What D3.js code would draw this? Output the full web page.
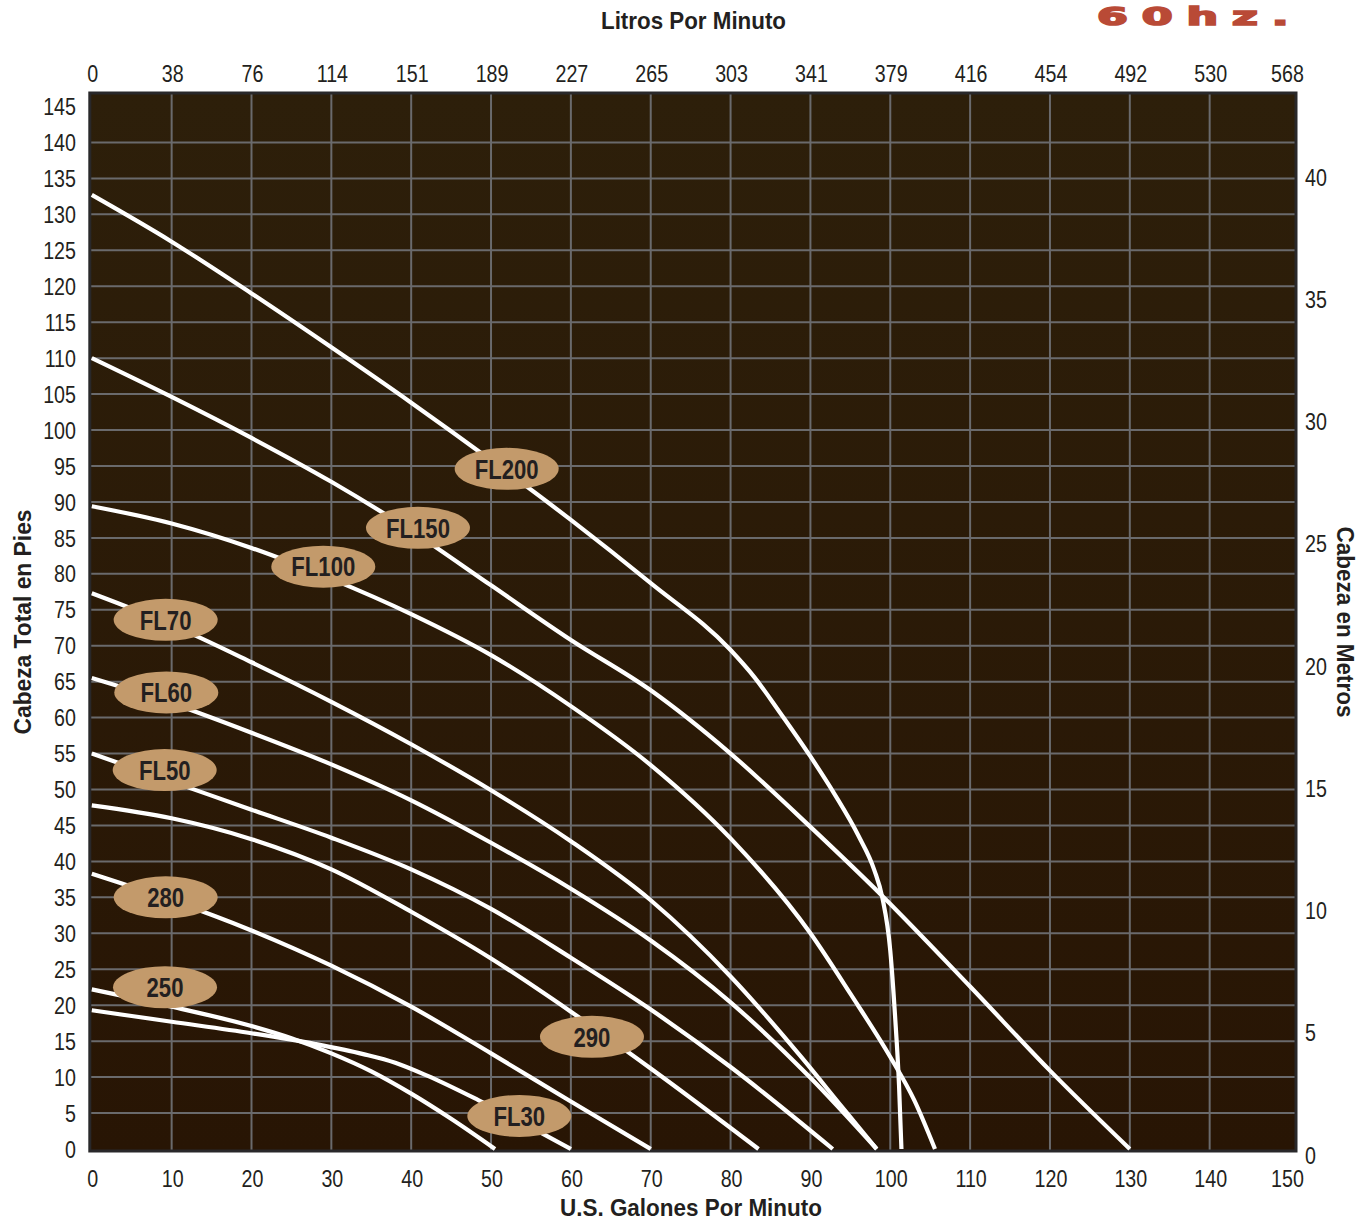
<!DOCTYPE html>
<html>
<head>
<meta charset="utf-8">
<script src="https://cdn.jsdelivr.net/npm/d3@7"></script>
<style>
  html, body { margin: 0; padding: 0; background: #ffffff; }
  svg { display: block; }
  .tick-label { font-family: 'Liberation Sans', Arial, sans-serif; font-size: 24px; fill: #231f20; }
  .title { font-family: 'Liberation Sans', Arial, sans-serif; font-weight: bold; font-size: 24px; fill: #231f20; }
  .pump-label { font-family: 'Liberation Sans', Arial, sans-serif; font-weight: bold; font-size: 27px; fill: #231f20; }
</style>
</head>
<body>
<svg id="chart" width="1367" height="1222"></svg>
<script>
// ---------------- DATA ----------------
const gpmTicks = [0, 10, 20, 30, 40, 50, 60, 70, 80, 90, 100, 110, 120, 130, 140, 150];
const lpmLabels = ["0", "38", "76", "114", "151", "189", "227", "265", "303", "341", "379", "416", "454", "492", "530", "568"];
const ftTicks = [0, 5, 10, 15, 20, 25, 30, 35, 40, 45, 50, 55, 60, 65, 70, 75, 80, 85, 90, 95, 100, 105, 110, 115, 120, 125, 130, 135, 140, 145];
const meterTicks = [0, 5, 10, 15, 20, 25, 30, 35, 40];

// pump curves: [US gpm, total head in feet]
const fl200 = [[0,132.7],[10,126.2],[20,119.0],[30,111.5],[40,103.8],[50,95.8],[60,87.5],[70,78.7],[80,69.4],[83,65.6],[86,61.0],[90,54.6],[93,49.4],[96,43.6],[98,38.8],[99,35.0],[100,27.6],[100.6,18.5],[101.1,8.8],[101.4,0]];
const fl150 = [[0,110.0],[10,104.6],[20,98.9],[30,92.8],[40,86.0],[50,78.4],[60,70.8],[70,63.8],[80,55.0],[90,44.8],[99,35.2],[110,22.6],[120,10.9],[130,0]];
const fl100 = [[0,89.4],[10,87.0],[20,83.6],[30,79.3],[40,74.4],[50,68.7],[60,61.6],[70,53.4],[80,43.2],[90,30.0],[95,21.6],[100,12.8],[103,6.8],[105.6,0]];
const fl70  = [[0,77.3],[10,72.9],[20,67.7],[30,62.2],[40,56.3],[50,49.9],[60,42.8],[70,34.6],[80,24.0],[89,12.6],[94,5.8],[98.3,0]];
const fl60  = [[0,65.5],[10,62.0],[20,57.9],[30,53.5],[40,48.5],[50,42.6],[60,36.2],[70,29.0],[80,20.4],[90,9.9],[98.3,0]];
const fl50  = [[0,55.0],[10,51.1],[20,47.2],[30,43.3],[40,38.9],[50,33.4],[60,26.6],[70,19.4],[80,11.4],[92.8,0]];
const p290  = [[0,47.8],[10,46.0],[20,43.1],[30,38.9],[40,33.0],[50,26.5],[60,19.1],[70,11.2],[83.5,0]];
const p280  = [[0,38.3],[10,34.6],[20,30.4],[30,25.5],[40,19.8],[50,13.3],[60,6.6],[70,0]];
const p250  = [[0,22.2],[10,19.8],[20,17.1],[25,15.4],[30,13.3],[35,10.8],[40,7.7],[45,4.2],[50.5,0]];
const fl30  = [[0,19.3],[10,17.7],[20,16.1],[28,14.6],[34,13.2],[38,12.0],[42,10.2],[48.4,6.8],[55,3.0],[60,0]];
const curves = [fl200, fl150, fl100, fl70, fl60, fl50, p290, p280, p250, fl30];

// label bubbles
const labelNames = ["FL200", "FL150", "FL100", "FL70", "FL60", "FL50", "280", "250", "290", "FL30"];
const labelGpm  = [51.96, 40.85, 28.99, 9.25, 9.33, 9.13, 9.25, 9.17, 62.64, 53.54];
const labelFt   = [94.6, 86.4, 81.0, 73.6, 63.5, 52.7, 35.0, 22.5, 15.6, 4.6];

// ---------------- DRAW ----------------
const svg = d3.select("#chart");
const x = d3.scaleLinear().domain([0, 150]).range([91.8, 1289.5]);
const y = d3.scaleLinear().domain([0, 145]).range([1149, 106.5]);
const yM = d3.scaleLinear().domain([0, 40]).range([1155, 177]);
const NARROW = 0.82;

const plotL = x(0) - 2, plotR = x(150) + 6.5, plotT = y(145) - 13.5, plotB = y(0) + 2;

const defs = svg.append("defs");
const grad = defs.append("linearGradient").attr("id", "bg").attr("x1", 0).attr("y1", 0).attr("x2", 0).attr("y2", 1);
grad.append("stop").attr("offset", "0%").attr("stop-color", "#2d1f0a");
grad.append("stop").attr("offset", "100%").attr("stop-color", "#281504");
defs.append("clipPath").attr("id", "clip").append("rect")
  .attr("x", plotL).attr("y", plotT).attr("width", plotR - plotL).attr("height", plotB - plotT);

svg.append("rect").attr("x", plotL).attr("y", plotT).attr("width", plotR - plotL).attr("height", plotB - plotT)
  .attr("fill", "url(#bg)");

// grid
const grid = svg.append("g").attr("stroke", "#6a6a6c").attr("stroke-width", 2);
grid.selectAll("line.v").data(gpmTicks.filter(d => d > 0 && d < 150)).enter().append("line")
  .attr("x1", d => x(d)).attr("x2", d => x(d)).attr("y1", plotT).attr("y2", plotB);
grid.selectAll("line.h").data(ftTicks.filter(d => d > 0 && d < 145)).enter().append("line")
  .attr("x1", plotL).attr("x2", plotR).attr("y1", d => y(d)).attr("y2", d => y(d));

// frame
svg.append("rect").attr("x", plotL).attr("y", plotT).attr("width", plotR - plotL).attr("height", plotB - plotT)
  .attr("fill", "none").attr("stroke", "#29282a").attr("stroke-width", 3);

// curves
const line = d3.line().x(d => x(d[0])).y(d => y(d[1])).curve(d3.curveMonotoneX);
svg.append("g").attr("clip-path", "url(#clip)").selectAll("path").data(curves).enter().append("path")
  .attr("d", line).attr("fill", "none").attr("stroke", "#ffffff").attr("stroke-width", 4.2)
  .attr("stroke-linejoin", "round");

// labels
const lab = svg.append("g").selectAll("g").data(labelNames).enter().append("g")
  .attr("transform", (d, i) => `translate(${x(labelGpm[i])},${y(labelFt[i])})`);
lab.append("ellipse").attr("rx", 52).attr("ry", 21).attr("fill", "#c39a6b");
lab.append("text").attr("class", "pump-label").attr("text-anchor", "middle").attr("dy", "0.36em")
  .attr("transform", `scale(${NARROW},1)`).text(d => d);

// bottom axis labels
svg.append("g").selectAll("text").data(gpmTicks).enter().append("text")
  .attr("class", "tick-label").attr("text-anchor", "middle").attr("dy", "0.36em")
  .attr("transform", d => `translate(${x(d) + (d === 150 ? -2 : 1)},1178) scale(${NARROW},1)`).text(d => d);
// top axis labels
svg.append("g").selectAll("text").data(gpmTicks).enter().append("text")
  .attr("class", "tick-label").attr("text-anchor", "middle").attr("dy", "0.36em")
  .attr("transform", d => `translate(${x(d) + (d === 150 ? -2 : 1)},73) scale(${NARROW},1)`)
  .text((d, i) => lpmLabels[i]);
// left axis labels
svg.append("g").selectAll("text").data(ftTicks).enter().append("text")
  .attr("class", "tick-label").attr("text-anchor", "end").attr("dy", "0.36em")
  .attr("transform", d => `translate(76,${y(d)}) scale(${NARROW},1)`).text(d => d);
// right axis labels
svg.append("g").selectAll("text").data(meterTicks).enter().append("text")
  .attr("class", "tick-label").attr("text-anchor", "start").attr("dy", "0.36em")
  .attr("transform", d => `translate(1305,${yM(d)}) scale(${NARROW},1)`).text(d => d);

// titles
svg.append("text").attr("class", "title").attr("text-anchor", "middle")
  .attr("x", 693.5).attr("y", 20).attr("dy", "0.36em")
  .attr("textLength", 185).attr("lengthAdjust", "spacingAndGlyphs").text("Litros Por Minuto");
svg.append("text").attr("class", "title").attr("text-anchor", "middle")
  .attr("x", 691).attr("y", 1207).attr("dy", "0.36em")
  .attr("textLength", 262).attr("lengthAdjust", "spacingAndGlyphs").text("U.S. Galones Por Minuto");
svg.append("text").attr("class", "title").attr("text-anchor", "middle")
  .attr("transform", "translate(22,622) rotate(-90)").attr("dy", "0.36em")
  .attr("textLength", 225).attr("lengthAdjust", "spacingAndGlyphs").text("Cabeza Total en Pies");
svg.append("text").attr("class", "title").attr("text-anchor", "middle")
  .attr("transform", "translate(1346,622) rotate(90)").attr("dy", "0.36em")
  .attr("textLength", 191).attr("lengthAdjust", "spacingAndGlyphs").text("Cabeza en Metros");

// 60hz.
svg.append("g").attr("transform", "translate(1097,25) scale(1.85,1)")
  .append("text").attr("x", 0).attr("y", 0)
  .style("font-family", "'DejaVu Sans', sans-serif").style("font-weight", "bold")
  .style("font-size", "24px").style("letter-spacing", "7.5px")
  .attr("fill", "#b94a36").attr("stroke", "#b94a36").attr("stroke-width", 1.6)
  .text("60hz.");
</script>
</body>
</html>
